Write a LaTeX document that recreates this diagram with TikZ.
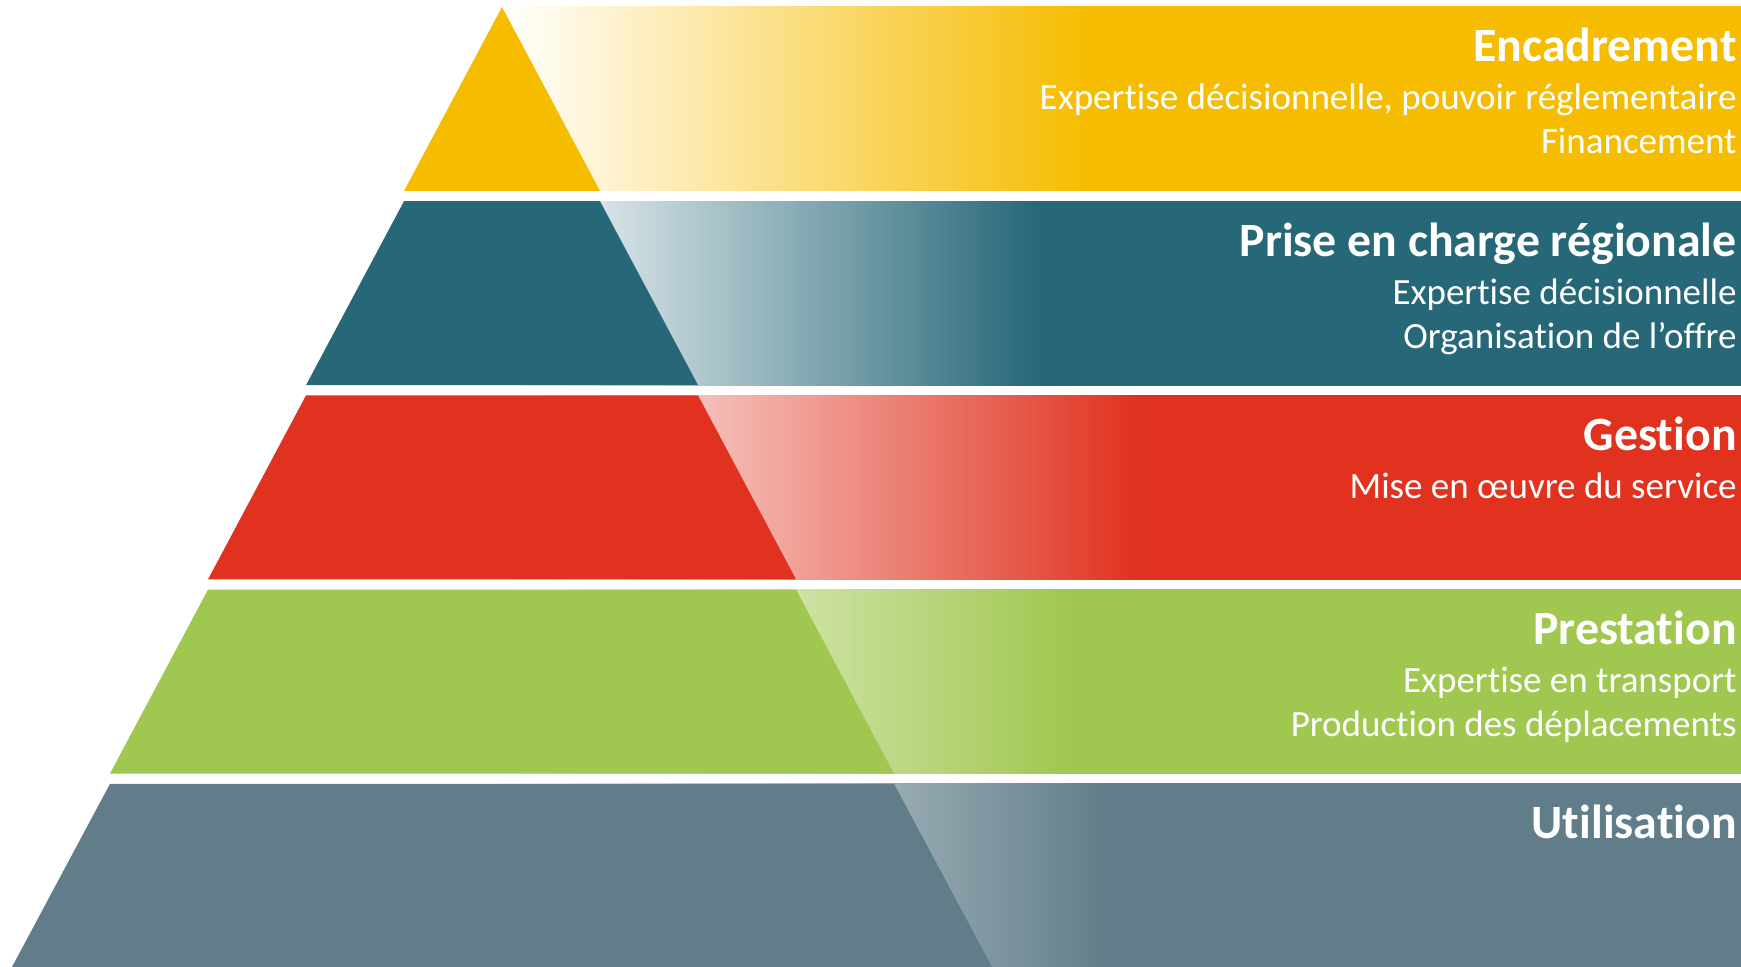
\documentclass[tikz,border=0pt]{standalone}
\usepackage{fontspec}
\setmainfont{Carlito}[Ligatures=NoCommon]
\usetikzlibrary{positioning}

\definecolor{encyellow}{HTML}{F6BC00}
\definecolor{regteal}{HTML}{266778}
\definecolor{gesred}{HTML}{E0321F}
\definecolor{pregreen}{HTML}{A0C750}
\definecolor{utislate}{HTML}{607D89}

% white on the left, full colour from about the middle of each band
\pgfdeclarehorizontalshading{encfade}{100bp}{color(0bp)=(white); color(25bp)=(white); color(48.7bp)=(encyellow); color(100bp)=(encyellow)}
\pgfdeclarehorizontalshading{regfade}{100bp}{color(0bp)=(white); color(25bp)=(white); color(46.7bp)=(regteal); color(100bp)=(regteal)}
\pgfdeclarehorizontalshading{gesfade}{100bp}{color(0bp)=(white); color(25bp)=(white); color(50.7bp)=(gesred); color(100bp)=(gesred)}
\pgfdeclarehorizontalshading{prefade}{100bp}{color(0bp)=(white); color(25bp)=(white); color(47.9bp)=(pregreen); color(100bp)=(pregreen)}
\pgfdeclarehorizontalshading{utifade}{100bp}{color(0bp)=(white); color(25bp)=(white); color(49.5bp)=(utislate); color(100bp)=(utislate)}

\tikzset{
  bandtitle/.style={anchor=base east, inner sep=0pt, text=white, font=\fontsize{23.9}{28}\selectfont\bfseries},
  banddetail/.style={anchor=base east, inner sep=0pt, text=white, font=\fontsize{18.5}{22}\selectfont},
}

\begin{document}
\begin{tikzpicture}[x=0.5pt, y=-0.5pt]

    \useasboundingbox (0,0) rectangle (1741,967);

    % Encadrement
    \shade[shading=encfade] (502,7) rectangle (1741,191);
    \fill[encyellow] (502,7) -- (600,191) -- (404,191) -- cycle;
    \node[bandtitle] (enc) at (1737,62) {Encadrement};
    \node[banddetail, below=24pt of enc.base east, anchor=base east] (enc-a) {Expertise décisionnelle, pouvoir réglementaire};
    \node[banddetail, below=22pt of enc-a.base east, anchor=base east] (enc-b) {Financement};

    % Prise en charge regionale
    \shade[shading=regfade] (502,201.2) rectangle (1741,385.2);
    \fill[regteal] (404,201.2) -- (600,201.2) -- (698,385.2) -- (306,385.2) -- cycle;
    \node[bandtitle] (reg) at (1737,256.2) {Prise en charge régionale};
    \node[banddetail, below=24pt of reg.base east, anchor=base east] (reg-a) {Expertise décisionnelle};
    \node[banddetail, below=22pt of reg-a.base east, anchor=base east] (reg-b) {Organisation de l’offre};

    % Gestion
    \shade[shading=gesfade] (502,395.4) rectangle (1741,579.4);
    \fill[gesred] (306,395.4) -- (698,395.4) -- (796,579.4) -- (208,579.4) -- cycle;
    \node[bandtitle] (ges) at (1737,450.4) {Gestion};
    \node[banddetail, below=24pt of ges.base east, anchor=base east] (ges-a) {Mise en œuvre du service};

    % Prestation
    \shade[shading=prefade] (502,589.6) rectangle (1741,773.6);
    \fill[pregreen] (208,589.6) -- (796,589.6) -- (894,773.6) -- (110,773.6) -- cycle;
    \node[bandtitle] (pre) at (1737,644.6) {Prestation};
    \node[banddetail, below=24pt of pre.base east, anchor=base east] (pre-a) {Expertise en transport};
    \node[banddetail, below=22pt of pre-a.base east, anchor=base east] (pre-b) {Production des déplacements};

    % Utilisation
    \shade[shading=utifade] (502,783.8) rectangle (1741,967);
    \fill[utislate] (110,783.8) -- (894,783.8) -- (992,967) -- (12,967) -- cycle;
    \node[bandtitle] (uti) at (1737,838.8) {Utilisation};

\end{tikzpicture}
\end{document}
